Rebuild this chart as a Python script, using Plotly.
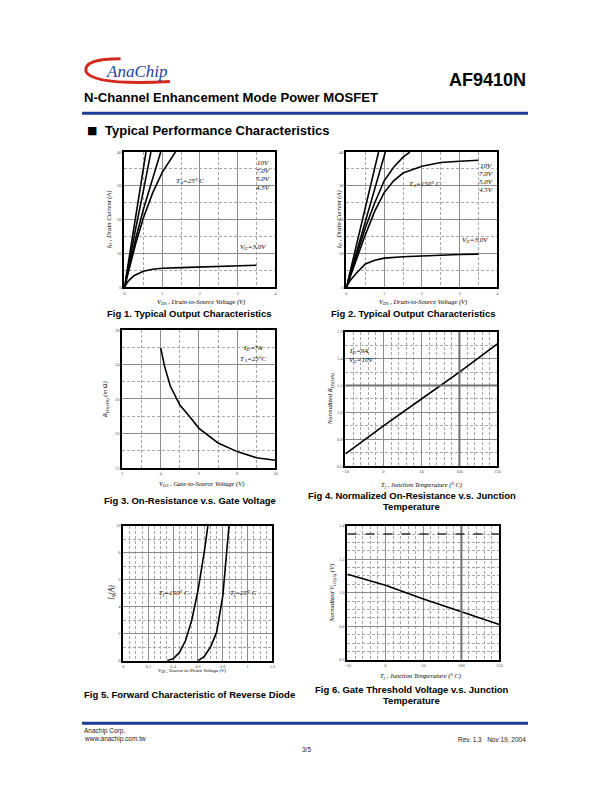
import plotly.graph_objects as go

# page is 612x792; the html body adds an 8px margin, so the figure is 596x776
OFF = 8
W, H = 612 - 2 * OFF, 792 - 2 * OFF
def px(x): return (x - OFF) / W
def py(y): return 1 - (y - OFF) / H

# ---------------- DATA ----------------
# Fig 1 : Output characteristics, Ta = 25 C
f1_vds_10 = [0, 0.1, 0.2, 0.3, 0.4, 0.5, 0.57]
f1_id_10 = [0, 7.2, 14.3, 21.3, 28.2, 35, 40]
f1_vds_7 = [0, 0.1, 0.3, 0.5, 0.7]
f1_id_7 = [0, 6, 17.5, 28.5, 40]
f1_vds_5 = [0, 0.1, 0.3, 0.5, 0.7, 0.96]
f1_id_5 = [0, 5, 14.5, 23, 30.5, 40]
f1_vds_45 = [0, 0.1, 0.3, 0.5, 0.75, 1.0, 1.2, 1.35]
f1_id_45 = [0, 4.5, 13, 20.5, 28, 34, 37.5, 40]
f1_vds_3 = [0, 0.1, 0.25, 0.5, 0.75, 1.0, 1.5, 2.0, 2.5, 3.0, 3.5]
f1_id_3 = [0, 1.8, 3.4, 4.7, 5.3, 5.6, 5.8, 5.95, 6.1, 6.3, 6.5]

# Fig 2 : Output characteristics, Ta = 150 C
f2_vds_10 = [0, 0.2, 0.4, 0.6, 0.85]
f2_id_10 = [0, 9.5, 19, 28.3, 40]
f2_vds_7 = [0, 0.25, 0.5, 0.75, 1.03]
f2_id_7 = [0, 9.8, 19.5, 29, 40]
f2_vds_5 = [0, 0.25, 0.5, 0.75, 1.0, 1.25, 1.5, 1.68]
f2_id_5 = [0, 9, 17.5, 25, 31.5, 35.5, 38.5, 40]
f2_vds_45 = [0, 0.25, 0.5, 0.75, 1.0, 1.25, 1.5, 2.0, 2.5, 3.0, 3.5]
f2_id_45 = [0, 8, 15.5, 22.5, 28, 31.5, 33.8, 35.8, 36.9, 37.3, 37.6]
f2_vds_3 = [0, 0.1, 0.25, 0.5, 0.75, 1.0, 1.5, 2.0, 2.5, 3.0, 3.5]
f2_id_3 = [0, 2, 4, 6.9, 8.0, 8.6, 9.0, 9.3, 9.5, 9.7, 9.8]

# Fig 3 : On-resistance vs gate voltage
f3_vgs = [4, 4.2, 4.5, 5, 5.5, 6, 7, 8, 9, 10]
f3_rds = [25.9, 23.8, 21.5, 19.3, 18.0, 16.6, 14.9, 13.9, 13.2, 12.9]

# Fig 4 : Normalized Rds(on) vs Tj
f4_tj = [-50, 0, 50, 100, 150]
f4_rn = [0.69, 0.9, 1.1, 1.3, 1.51]

# Fig 5 : Forward characteristic of reverse diode
f5_vsd_150 = [0.35, 0.4, 0.45, 0.5, 0.55, 0.6, 0.65, 0.68]
f5_is_150 = [0, 0.15, 0.6, 1.5, 3.0, 5.2, 8.0, 10]
f5_vsd_25 = [0.6, 0.65, 0.7, 0.75, 0.8, 0.83, 0.85]
f5_is_25 = [0, 0.3, 1.0, 2.1, 4.8, 8.0, 10]

# Fig 6 : Normalized Vgs(th) vs Tj
f6_tj = [-50, 0, 50, 100, 150]
f6_vn = [1.11, 1.045, 0.963, 0.885, 0.81]

# ---------------- FIGURE ----------------
fig = go.Figure()
line = dict(color="black", width=1.6)

def add(x, y, n):
    fig.add_trace(go.Scatter(x=x, y=y, mode="lines", line=line,
                             xaxis="x" + ("" if n == 1 else str(n)),
                             yaxis="y" + ("" if n == 1 else str(n)),
                             showlegend=False, hoverinfo="skip"))

for xs, ys in [(f1_vds_10, f1_id_10), (f1_vds_7, f1_id_7), (f1_vds_5, f1_id_5),
               (f1_vds_45, f1_id_45), (f1_vds_3, f1_id_3)]:
    add(xs, ys, 1)
for xs, ys in [(f2_vds_10, f2_id_10), (f2_vds_7, f2_id_7), (f2_vds_5, f2_id_5),
               (f2_vds_45, f2_id_45), (f2_vds_3, f2_id_3)]:
    add(xs, ys, 2)
add(f3_vgs, f3_rds, 3)
add(f4_tj, f4_rn, 4)
add(f5_vsd_150, f5_is_150, 5)
add(f5_vsd_25, f5_is_25, 5)
add(f6_tj, f6_vn, 6)

def axis(dom, rng, dtick, mdtick, anchor, fmt=None):
    d = dict(domain=dom, range=rng, tick0=rng[0], dtick=dtick,
             showgrid=True, gridcolor="#8c8c8c", gridwidth=1,
             minor=dict(tick0=rng[0], dtick=mdtick, showgrid=True, griddash="3px,2px",
                        gridcolor="#a8a8a8", gridwidth=1),
             showline=True, linecolor="black", linewidth=2, mirror=True,
             ticks="", zeroline=False, anchor=anchor, fixedrange=True,
             tickfont=dict(size=4.5, family="Liberation Serif", color="#555"))
    if fmt:
        d["tickformat"] = fmt
    return d

# plot areas in page pixel coords (x0, x1, ytop, ybottom)
boxes = {
    1: (122, 275, 151, 287),
    2: (347, 500, 151, 287),
    3: (120, 275, 330, 469),
    4: (346, 500, 332, 467),
    5: (121, 272, 527, 663),
    6: (348, 502, 527, 662),
}
specs = {
    1: ([0, 4], 1, 0.5, [0, 40], 10, 5, None, None),
    2: ([0, 4], 1, 0.5, [0, 40], 10, 5, None, None),
    3: ([2, 10], 2, 1, [12, 28], 4, 2, None, None),
    4: ([-50, 150], 50, 10, [0.6, 1.6], 0.2, 0.1, None, ".1f"),
    5: ([0, 1.2], 0.2, 0.05, [0, 10], 2, 1, None, None),
    6: ([-50, 150], 50, 10, [0.6, 1.4], 0.2, 0.05, None, ".1f"),
}
lay = {}
for n, (x0, x1, yt, yb) in boxes.items():
    xr, xd, xm, yr, yd, ym, xf, yf = specs[n]
    sx = "" if n == 1 else str(n)
    lay["xaxis" + sx] = axis([px(x0), px(x1)], xr, xd, xm, "y" + sx, xf)
    lay["yaxis" + sx] = axis([py(yb), py(yt)], yr, yd, ym, "x" + sx, yf)

fig.update_layout(width=W, height=H, margin=dict(l=0, r=0, t=0, b=0),
                  paper_bgcolor="white", plot_bgcolor="white", **lay)

ann = []
def txt(x, y, s, size=7, family="Liberation Serif", xa="center", ya="middle",
        color="black", angle=0):
    ann.append(dict(x=px(x), y=py(y), xref="paper", yref="paper", text=s,
                    showarrow=False, xanchor=xa, yanchor=ya, textangle=angle,
                    font=dict(size=size, family=family, color=color)))

# header
txt(531, 78, "<b>AF9410N</b>", 18, "Liberation Sans", xa="right")
txt(79, 96, "<b>N-Channel Enhancement Mode Power MOSFET</b>", 13.1, "Liberation Sans", xa="left")
txt(82, 129, "■", 11, "DejaVu Sans", xa="left")
txt(100, 129, "<b>Typical Performance Characteristics</b>", 13, "Liberation Sans", xa="left")
txt(134, 70, "<i>AnaChip</i>", 17, "Liberation Serif", color="#1f3f9f")

# captions
cap = dict(size=9.5, family="Liberation Sans")
txt(188, 313, "<b>Fig 1. Typical Output Characteristics</b>", **cap)
txt(415, 313, "<b>Fig 2. Typical Output Characteristics</b>", **cap)
txt(188, 502, "<b>Fig 3. On-Resistance v.s. Gate Voltage</b>", **cap)
txt(413, 497, "<b>Fig 4. Normalized On-Resistance v.s. Junction</b>", **cap)
txt(413, 508, "<b>Temperature</b>", **cap)
txt(188, 697, "<b>Fig 5. Forward Characteristic of Reverse Diode</b>", **cap)
txt(413, 692, "<b>Fig 6. Gate Threshold Voltage v.s. Junction</b>", **cap)
txt(413, 703, "<b>Temperature</b>", **cap)

# axis titles
at = dict(size=6.5)
txt(200, 302, "<i>V<sub>DS</sub> , Drain-to-Source Voltage (V)</i>", **at)
txt(425, 302, "<i>V<sub>DS</sub> , Drain-to-Source Voltage (V)</i>", **at)
txt(106, 219, "<i>I<sub>D</sub> , Drain Current (A)</i>", angle=-90, **at)
txt(339, 219, "<i>I<sub>D</sub> , Drain Current (A)</i>", angle=-90, **at)
txt(200, 485, "<i>V<sub>GS</sub> , Gate-to-Source Voltage (V)</i>", **at)
txt(103, 400, "<i>R<sub>DS(ON)</sub> (m Ω)</i>", angle=-90, **at)
txt(423, 486, "<i>T<sub>j</sub> , Junction Temperature (° C)</i>", **at)
txt(331, 400, "<i>Normalized R<sub>DS(ON)</sub></i>", angle=-90, **at)
txt(190, 673, "<i>V<sub>SD</sub> , Source-to-Drain Voltage (V)</i>", size=5)
txt(110, 595, "<i>I<sub>S</sub>(A)</i>", angle=-90, size=7.5)
txt(422, 678, "<i>T<sub>j</sub> , Junction Temperature (° C)</i>", **at)
txt(333, 595, "<i>Normalized V<sub>GS(th)</sub> (V)</i>", angle=-90, **at)

# in-plot labels
il = dict(size=7)
for yy, s in [(162, "10V"), (170, "7.0V"), (178, "5.0V"), (187, "4.5V")]:
    txt(262, yy, "<i>" + s + "</i>", **il)
txt(188, 180, "<i>T<sub>A</sub>=25° C</i>", **il)
txt(252, 247, "<i>V<sub>G</sub>=3.0V</i>", **il)
for yy, s in [(165, "10V"), (173, "7.0V"), (181, "5.0V"), (189, "4.5V")]:
    txt(488, yy, "<i>" + s + "</i>", **il)
txt(427, 183, "<i>T<sub>A</sub>=150° C</i>", **il)
txt(477, 239, "<i>V<sub>G</sub>=3.0V</i>", **il)
txt(252, 348, "<i>I<sub>D</sub>=7A</i>", **il)
txt(252, 359, "<i>T<sub>A</sub>=25°C</i>", **il)
txt(348, 351, "<i>I<sub>D</sub>=9A</i>", xa="left", **il)
txt(348, 360, "<i>V<sub>G</sub>=10V</i>", xa="left", **il)
txt(172, 595, "<i>T<sub>j</sub>=150° C</i>", **il)
txt(243, 595, "<i>T<sub>j</sub>=25° C</i>", **il)

# footer
ft = dict(size=6.5, family="Liberation Sans", color="#222")
txt(79, 734, "Anachip Corp.", xa="left", **ft)
txt(79, 742, "www.anachip.com.tw", xa="left", **ft)
txt(531, 742, "Rev. 1.3   Nov 19, 2004", xa="right", **ft)
txt(307, 752, "3/5", **ft)

fig.update_layout(annotations=ann)

# decorative shapes: rules, logo swoosh, emphasised grid lines
def P(x, y): return f"{px(x):.4f},{py(y):.4f}"
shapes = [
    dict(type="line", xref="paper", yref="paper", x0=px(79), x1=px(531), y0=py(112), y1=py(112),
         line=dict(color="#1d3a94", width=3)),
    dict(type="line", xref="paper", yref="paper", x0=px(79), x1=px(531), y0=py(726), y1=py(726),
         line=dict(color="#1d3a94", width=3)),
    dict(type="path", xref="paper", yref="paper",
         path=f"M {P(118,57)} Q {P(80,57)} {P(83,70)} Q {P(90,84)} {P(168,80)}",
         line=dict(color="#d42a1e", width=3)),
    dict(type="line", xref="x4", yref="y4", x0=100, x1=100, y0=0.6, y1=1.6,
         line=dict(color="#707070", width=2)),
    dict(type="line", xref="x4", yref="y4", x0=-50, x1=150, y0=1.2, y1=1.2,
         line=dict(color="#707070", width=2)),
    dict(type="line", xref="x6", yref="y6", x0=100, x1=100, y0=0.6, y1=1.4,
         line=dict(color="#707070", width=2)),
    dict(type="line", xref="x6", yref="y6", x0=-50, x1=150, y0=1.35, y1=1.35,
         line=dict(color="#333", width=1.5, dash="dash")),
]
fig.update_layout(shapes=shapes)

fig.write_html("out.html")
